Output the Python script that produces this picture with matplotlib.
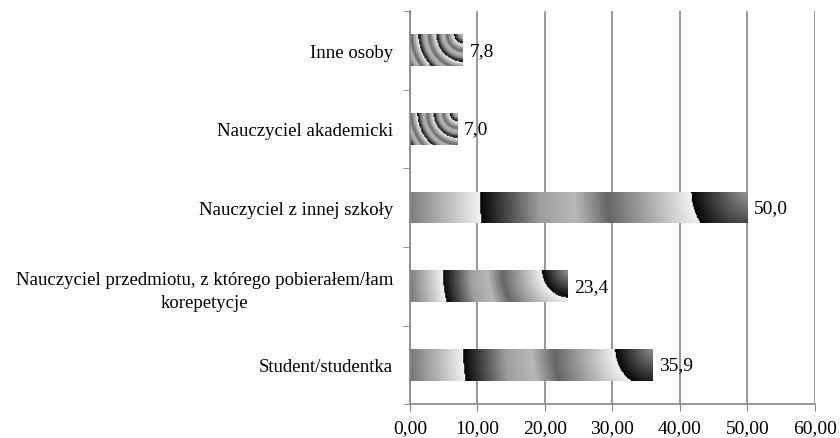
import numpy as np
import matplotlib
matplotlib.use('Agg')
import matplotlib.pyplot as plt

# Dane
kategorie = ['Student/studentka',
             'Nauczyciel przedmiotu, z którego pobierałem/łam\nkorepetycje',
             'Nauczyciel z innej szkoły',
             'Nauczyciel akademicki',
             'Inne osoby']
wartosci = [35.9, 23.4, 50.0, 7.0, 7.8]
etykiety = ['35,9', '23,4', '50,0', '7,0', '7,8']
ticks_x = [0, 10, 20, 30, 40, 50, 60]
ticks_x_lab = ['0,00', '10,00', '20,00', '30,00', '40,00', '50,00', '60,00']

plt.rcParams['font.family'] = ['Liberation Serif', 'DejaVu Serif']
szary = '#868686'

fig = plt.figure(figsize=(8.4, 4.39), dpi=100)
ax = fig.add_axes([0.488, 0.077, 0.482, 0.896])
ax.set_xlim(0, 60)
ax.set_ylim(-0.5, 4.5)

wys = 0.4
bars = ax.barh(range(len(wartosci)), wartosci, height=wys, color='none', zorder=2)

# profil jednego "pierscienia" gradientu (jak w Excelu)
prof_t = [0.0, 0.40, 0.55, 0.72, 1.0]
prof_g = [0.95, 0.40, 0.72, 0.62, 0.02]


def tekstura(w_px, h_px, k, faza):
    nx, ny = int(max(w_px, 2)), int(max(h_px, 2))
    x = np.arange(nx) + 0.5
    y = np.arange(ny) + 0.5
    r = np.hypot((w_px - x)[None, :], y[:, None]) / w_px
    t = (k * r + faza) % 1
    return np.interp(t, prof_t, prof_g)


fig.canvas.draw()
sx = ax.transData.transform((1, 0))[0] - ax.transData.transform((0, 0))[0]
sy = ax.transData.transform((0, 1))[1] - ax.transData.transform((0, 0))[1]
pierscienie = [1.6, 1.6, 1.6, 3.0, 3.0]
fazy = [0.75, 0.73, 0.73, 0.47, 0.47]
for i, (b, v) in enumerate(zip(bars, wartosci)):
    g = tekstura(v * sx, wys * sy, pierscienie[i], fazy[i])
    im = ax.imshow(g, cmap='gray', vmin=0, vmax=1, origin='upper',
                   extent=(0, v, i - wys / 2, i + wys / 2), aspect='auto',
                   interpolation='bilinear', zorder=2)
    im.set_clip_path(b)
    ax.text(v + 1.0, i, etykiety[i], va='center', ha='left', fontsize=14)

ax.set_aspect('auto')
ax.set_xlim(0, 60)
ax.set_ylim(-0.5, 4.5)

ax.set_xticks(ticks_x)
ax.set_xticklabels(ticks_x_lab, fontsize=14)
ax.set_yticks(range(len(kategorie)))
ax.set_yticklabels(kategorie, fontsize=13.5, multialignment='center', linespacing=1.45)
ax.set_yticks(np.arange(-0.5, 4.6, 1), minor=True)

ax.tick_params(axis='y', which='major', length=0, pad=12)
ax.tick_params(axis='y', which='minor', length=5, color=szary, direction='out')
ax.tick_params(axis='x', length=5, color=szary, direction='out', pad=6)

ax.grid(axis='x', color=szary, linewidth=1.2, zorder=1)
ax.set_axisbelow(True)
for s in ['top', 'right']:
    ax.spines[s].set_visible(False)
for s in ['left', 'bottom']:
    ax.spines[s].set_color(szary)
    ax.spines[s].set_linewidth(1.2)

plt.savefig('out.png', dpi=100)
